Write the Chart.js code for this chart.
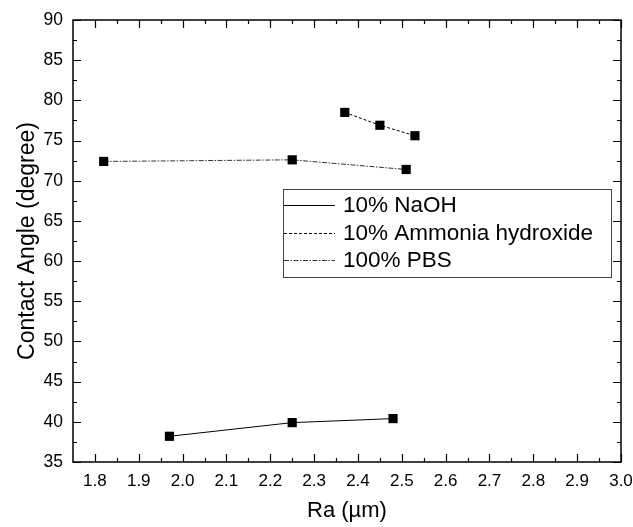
<!DOCTYPE html>
<html>
<head>
<meta charset="utf-8">
<script src="https://cdn.jsdelivr.net/npm/chart.js@4.4.1/dist/chart.umd.min.js"></script>
<style>
  html, body { margin: 0; padding: 0; background: #fff; }
  #wrap { width: 633px; height: 527px; position: relative; }
</style>
</head>
<body>
<div id="wrap"><canvas id="c" width="633" height="527"></canvas></div>
<script>
// ---- data ----
const seriesNames = ["10% NaOH", "10% Ammonia hydroxide", "100% PBS"];
const naohX = [1.97, 2.25, 2.48];
const naohY = [38.2, 39.9, 40.4];
const ammoniaX = [2.37, 2.45, 2.53];
const ammoniaY = [78.5, 76.9, 75.6];
const pbsX = [1.82, 2.25, 2.51];
const pbsY = [72.4, 72.6, 71.4];
const xTicks = [1.8, 1.9, 2.0, 2.1, 2.2, 2.3, 2.4, 2.5, 2.6, 2.7, 2.8, 2.9, 3.0];
const yTicks = [35, 40, 45, 50, 55, 60, 65, 70, 75, 80, 85, 90];
const xLabel = "Ra (µm)";
const yLabel = "Contact Angle (degree)";

const FONT = "'Liberation Sans', Arial, sans-serif";
const toPts = (xs, ys) => xs.map((x, i) => ({ x: x, y: ys[i] }));

const dashes = [[], [3, 2], [5, 1.5, 1.5, 1.5]];
const lineColors = ["#000", "#000", "#333"];
const dataPairs = [[naohX, naohY], [ammoniaX, ammoniaY], [pbsX, pbsY]];

const datasets = seriesNames.map((name, i) => ({
  label: name,
  data: toPts(dataPairs[i][0], dataPairs[i][1]),
  showLine: true,
  borderColor: lineColors[i],
  borderWidth: 1,
  borderDash: dashes[i],
  pointStyle: 'rect',
  pointRadius: 6.5,
  pointHoverRadius: 6.5,
  pointBackgroundColor: '#000',
  pointBorderColor: '#000',
  pointBorderWidth: 0,
  tension: 0
}));

// frame + inward ticks + legend
const framePlugin = {
  id: 'frame',
  afterDatasetsDraw(chart) {
    const ctx = chart.ctx;
    const a = chart.chartArea;
    const xs = chart.scales.x, ys = chart.scales.y;
    ctx.save();
    ctx.strokeStyle = '#000';
    ctx.lineWidth = 1.5;
    ctx.strokeRect(a.left, a.top, a.right - a.left, a.bottom - a.top);
    ctx.lineWidth = 1.2;
    ctx.beginPath();
    const MAJ = 8, MIN = 4;
    xTicks.forEach((v, i) => {
      const px = Math.round(xs.getPixelForValue(v)) + 0.5;
      ctx.moveTo(px, a.bottom); ctx.lineTo(px, a.bottom - MAJ);
      ctx.moveTo(px, a.top); ctx.lineTo(px, a.top + MAJ);
      if (i < xTicks.length - 1) {
        const m = Math.round(xs.getPixelForValue((v + xTicks[i + 1]) / 2)) + 0.5;
        ctx.moveTo(m, a.bottom); ctx.lineTo(m, a.bottom - MIN);
        ctx.moveTo(m, a.top); ctx.lineTo(m, a.top + MIN);
      }
    });
    yTicks.forEach((v, i) => {
      const py = Math.round(ys.getPixelForValue(v)) + 0.5;
      ctx.moveTo(a.left, py); ctx.lineTo(a.left + MAJ, py);
      ctx.moveTo(a.right, py); ctx.lineTo(a.right - MAJ, py);
      if (i < yTicks.length - 1) {
        const m = Math.round(ys.getPixelForValue((v + yTicks[i + 1]) / 2)) + 0.5;
        ctx.moveTo(a.left, m); ctx.lineTo(a.left + MIN, m);
        ctx.moveTo(a.right, m); ctx.lineTo(a.right - MIN, m);
      }
    });
    ctx.stroke();

    // legend box
    const bx = 283, by = 189, bw = 328, bh = 88;
    ctx.fillStyle = '#fff';
    ctx.fillRect(bx, by, bw, bh);
    ctx.strokeStyle = '#444';
    ctx.lineWidth = 1;
    ctx.strokeRect(bx + 0.5, by + 0.5, bw, bh);
    ctx.font = "22.5px " + FONT;
    ctx.textBaseline = 'middle';
    ctx.textAlign = 'left';
    chart.data.datasets.forEach((ds, i) => {
      const cy = by + 16 + i * 27.5;
      ctx.beginPath();
      ctx.setLineDash(ds.borderDash);
      ctx.strokeStyle = ds.borderColor;
      ctx.lineWidth = 1;
      ctx.moveTo(bx + 1, Math.round(cy) + 0.5);
      ctx.lineTo(bx + 52, Math.round(cy) + 0.5);
      ctx.stroke();
      ctx.setLineDash([]);
      ctx.fillStyle = '#000';
      ctx.fillText(ds.label, bx + 60, cy + 1);
    });
    ctx.restore();
  }
};

new Chart(document.getElementById('c'), {
  type: 'scatter',
  data: { datasets: datasets },
  options: {
    responsive: false,
    animation: false,
    devicePixelRatio: 1,
    layout: { padding: { top: 20, right: 12, left: 0, bottom: 0 } },
    plugins: { legend: { display: false }, tooltip: { enabled: false } },
    scales: {
      x: {
        type: 'linear', min: 1.75, max: 3.0,
        afterBuildTicks(scale) { scale.ticks = xTicks.map(v => ({ value: v })); },
        afterFit(scale) { scale.height = 65; scale.paddingLeft = 0; scale.paddingRight = 0; },
        grid: { display: false, drawTicks: false },
        border: { display: false },
        ticks: { color: '#000', padding: 9, maxRotation: 0, autoSkip: false,
                 font: { family: FONT, size: 17 }, callback: v => Number(v).toFixed(1) },
        title: { display: true, text: xLabel, color: '#000',
                 font: { family: FONT, size: 22 }, padding: { top: 0, bottom: 3 } }
      },
      y: {
        type: 'linear', min: 35, max: 90,
        afterBuildTicks(scale) { scale.ticks = yTicks.map(v => ({ value: v })); },
        afterFit(scale) { scale.width = 73; scale.paddingTop = 0; scale.paddingBottom = 0; },
        grid: { display: false, drawTicks: false },
        border: { display: false },
        ticks: { color: '#000', padding: 10, autoSkip: false,
                 font: { family: FONT, size: 17.5 }, callback: v => String(v) },
        title: { display: true, text: yLabel, color: '#000',
                 font: { family: FONT, size: 23 }, padding: { top: 14, bottom: 0 } }
      }
    }
  },
  plugins: [framePlugin]
});
</script>
</body>
</html>
